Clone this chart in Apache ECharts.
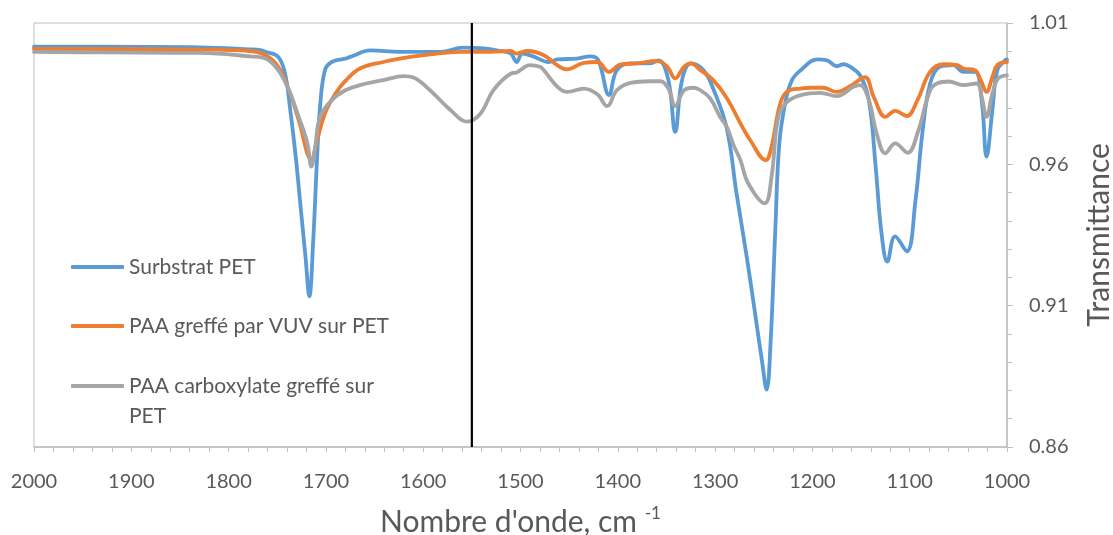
<!DOCTYPE html>
<html>
<head>
<meta charset="utf-8">
<script src="https://cdn.jsdelivr.net/npm/echarts@6/dist/echarts.min.js"></script>
<style>
  html, body { margin: 0; padding: 0; background: #ffffff; }
  #chart { width: 1113px; height: 535px; }
</style>
</head>
<body>
<div id="chart"></div>
<script>
// Series names
const seriesNames = ['Surbstrat PET', 'PAA greffé par VUV sur PET', 'PAA carboxylate greffé sur PET'];

// Surbstrat PET (blue)
const wnBlue = [2000,1932,1829,1778,1767,1762,1749,1742,1737,1731,1726,1721,1717,1713,1709,1706,1701,1694,1680,1675,1654,1624,1582,1559,1538,1521,1510,1504,1498,1487,1471,1462,1442,1428,1420,1409,1401,1387,1367,1358,1348,1341,1334,1325,1312,1302,1288,1278,1267,1257,1252,1247,1243,1238,1234,1228,1221,1212,1195,1185,1175,1168,1161,1151,1142,1135,1129,1123,1115,1103,1094,1087,1079,1069,1055,1045,1033,1026,1021,1015,1010,1002,1000];
const tBlue = [1.0016,1.0016,1.0014,1.0007,1.0004,0.9998,0.9980,0.9921,0.9803,0.9627,0.9450,0.9274,0.9133,0.9333,0.9627,0.9803,0.9933,0.9962,0.9974,0.9980,1.0003,0.9998,0.9998,1.0013,1.0010,1.0001,0.9992,0.9962,0.9992,0.9982,0.9962,0.9971,0.9974,0.9982,0.9968,0.9845,0.9933,0.9957,0.9957,0.9968,0.9898,0.9715,0.9898,0.9957,0.9933,0.9868,0.9727,0.9498,0.9262,0.9027,0.8909,0.8803,0.8968,0.9380,0.9674,0.9816,0.9898,0.9933,0.9971,0.9968,0.9947,0.9954,0.9945,0.9915,0.9827,0.9592,0.9357,0.9256,0.9345,0.9292,0.9474,0.9710,0.9886,0.9945,0.9951,0.9927,0.9927,0.9827,0.9627,0.9792,0.9933,0.9968,0.9971];

// PAA greffé par VUV sur PET (orange)
const wnOrange = [2000,1932,1829,1778,1762,1749,1738,1728,1715,1709,1701,1690,1680,1665,1641,1613,1586,1559,1531,1510,1504,1493,1476,1462,1452,1435,1421,1409,1397,1380,1360,1349,1341,1332,1325,1315,1302,1288,1274,1264,1248,1242,1233,1225,1212,1202,1189,1175,1161,1146,1137,1125,1115,1103,1092,1079,1065,1051,1045,1033,1027,1021,1015,1010,1000];
const tOrange = [1.0008,1.0008,1.0006,1.0001,0.9986,0.9945,0.9862,0.9757,0.9618,0.9686,0.9780,0.9851,0.9895,0.9939,0.9962,0.9980,0.9992,0.9998,0.9998,1.0001,0.9992,1.0001,0.9986,0.9950,0.9936,0.9959,0.9962,0.9927,0.9954,0.9957,0.9966,0.9945,0.9904,0.9945,0.9957,0.9933,0.9898,0.9835,0.9745,0.9686,0.9615,0.9662,0.9816,0.9860,0.9868,0.9871,0.9871,0.9856,0.9877,0.9908,0.9839,0.9768,0.9789,0.9771,0.9827,0.9927,0.9954,0.9951,0.9939,0.9933,0.9898,0.9856,0.9909,0.9951,0.9962];

// PAA carboxylate greffé sur PET (gray)
const wnGray = [2000,1932,1829,1778,1762,1749,1738,1728,1719,1715,1711,1706,1694,1680,1665,1641,1620,1610,1593,1572,1555,1541,1528,1510,1504,1490,1480,1476,1462,1452,1435,1421,1411,1401,1387,1367,1356,1348,1341,1332,1322,1315,1305,1295,1288,1281,1274,1266,1249,1242,1235,1226,1212,1192,1175,1158,1151,1142,1134,1125,1115,1102,1092,1079,1072,1060,1045,1031,1026,1021,1015,1009,1000];
const tGray = [0.9998,0.9996,0.9994,0.9982,0.9974,0.9933,0.9862,0.9768,0.9674,0.9592,0.9662,0.9768,0.9827,0.9862,0.9880,0.9898,0.9912,0.9907,0.9862,0.9792,0.9751,0.9780,0.9862,0.9921,0.9925,0.9951,0.9945,0.9933,0.9874,0.9856,0.9868,0.9848,0.9806,0.9862,0.9888,0.9894,0.9894,0.9868,0.9806,0.9862,0.9871,0.9862,0.9833,0.9768,0.9733,0.9668,0.9615,0.9533,0.9462,0.9556,0.9768,0.9821,0.9845,0.9853,0.9841,0.9874,0.9880,0.9827,0.9710,0.9639,0.9674,0.9641,0.9710,0.9862,0.9886,0.9893,0.9880,0.9886,0.9839,0.9768,0.9851,0.9904,0.9915];

// Vertical marker line
const markerWn = 1550;
const markerT = [0.86, 1.01];

// Axes
const xMin = 1000, xMax = 2000, xStep = 100;
const yMin = 0.86, yMax = 1.01, yStep = 0.05;

const zip = (xs, ys) => xs.map((x, i) => [x, ys[i]]);

const FONT = 'Lato, "Open Sans", sans-serif';
const TXT = '#595959';
const AX = '#BFBFBF';

const chart = echarts.init(document.getElementById('chart'), null, { renderer: 'canvas' });

const legendBase = {
  orient: 'vertical',
  padding: 0,
  itemWidth: 53,
  itemHeight: 4,
  itemGap: 0,
  icon: 'roundRect',
  left: 71,
  textStyle: { color: TXT, fontSize: 21, fontFamily: FONT, lineHeight: 30 }
};

const lineSeries = (name, data, color) => ({
  name, type: 'line', data,
  smooth: 0.4,
  showSymbol: false, symbol: 'none',
  lineStyle: { color, width: 3.8, cap: 'round', join: 'round' },
  itemStyle: { color },
  emphasis: { disabled: true }
});

chart.setOption({
  animation: false,
  backgroundColor: '#ffffff',
  grid: {
    left: 34, right: 106, top: 23, bottom: 88,
    outerBoundsMode: 'none',
    containLabel: false,
    show: true, borderColor: AX, borderWidth: 1
  },
  legend: [
    Object.assign({}, legendBase, { data: [seriesNames[0]], top: 252 }),
    Object.assign({}, legendBase, { data: [seriesNames[1]], top: 311 }),
    Object.assign({}, legendBase, { data: [seriesNames[2]], top: 341,
      formatter: () => ' \nPAA carboxylate greffé sur\nPET' })
  ],
  xAxis: {
    type: 'value', min: xMin, max: xMax, interval: xStep, inverse: true,
    position: 'bottom',
    axisLine: { show: true, onZero: false, lineStyle: { color: AX, width: 1.5 } },
    axisTick: { show: true, length: 5, lineStyle: { color: AX, width: 1 } },
    minorTick: { show: true, splitNumber: 5, length: 5, lineStyle: { color: AX, width: 1 } },
    splitLine: { show: false },
    axisLabel: { color: TXT, fontSize: 20, fontFamily: FONT, margin: 25,
      formatter: v => String(v) },
    name: "Nombre d'onde, cm {sup|-1}",
    nameLocation: 'middle',
    nameGap: 58,
    nameTextStyle: {
      color: TXT, fontSize: 30, fontFamily: FONT, lineHeight: 34,
      rich: { sup: { fontSize: 17, fontFamily: FONT, color: TXT, verticalAlign: 'top', lineHeight: 18 } }
    }
  },
  yAxis: {
    type: 'value', min: yMin, max: yMax, interval: yStep,
    position: 'right',
    axisLine: { show: true, onZero: false, lineStyle: { color: AX, width: 1.5 } },
    axisTick: { show: true, length: 6, lineStyle: { color: AX, width: 1 } },
    minorTick: { show: true, splitNumber: 5, length: 5, lineStyle: { color: AX, width: 1 } },
    splitLine: { show: false },
    axisLabel: { color: TXT, fontSize: 20, fontFamily: FONT, margin: 22,
      formatter: v => v.toFixed(2) },
    name: 'Transmittance',
    nameLocation: 'middle',
    nameRotate: 90,
    nameGap: 77,
    nameTextStyle: { color: TXT, fontSize: 30, fontFamily: FONT }
  },
  series: [
    lineSeries(seriesNames[0], zip(wnBlue, tBlue), '#5B9BD5'),
    lineSeries(seriesNames[1], zip(wnOrange, tOrange), '#ED7D31'),
    lineSeries(seriesNames[2], zip(wnGray, tGray), '#A5A5A5'),
    {
      name: 'marker', type: 'line', symbol: 'none', silent: true,
      data: markerT.map(t => [markerWn, t]),
      lineStyle: { color: '#000000', width: 2.2 },
      emphasis: { disabled: true }
    }
  ]
});
</script>
</body>
</html>
